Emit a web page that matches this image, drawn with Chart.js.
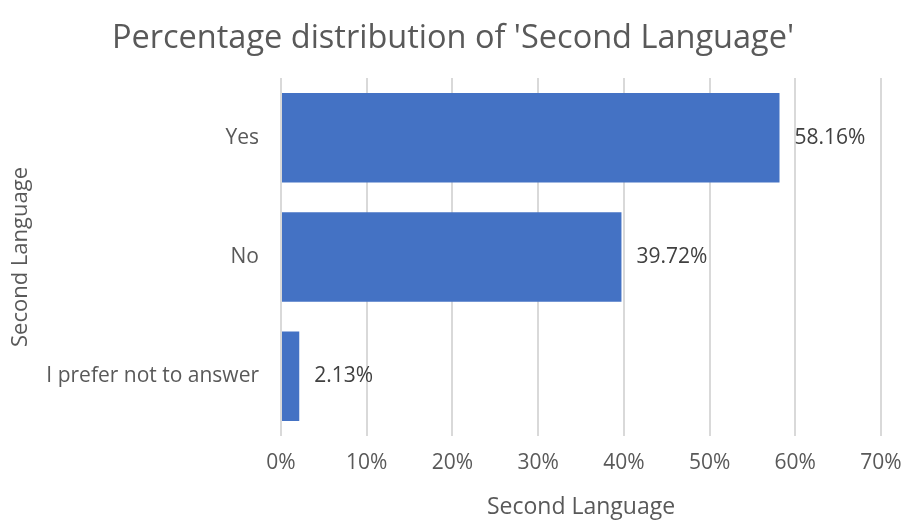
<!DOCTYPE html>
<html>
<head>
<meta charset="utf-8">
<script src="https://cdn.jsdelivr.net/npm/chart.js@4"></script>
<style>
  html, body { margin: 0; padding: 0; background: #fff; }
  #wrap { width: 906px; height: 525px; }
</style>
</head>
<body>
<div id="wrap"><canvas id="chart" width="906" height="525"></canvas></div>
<script>
// Chart data
const categories = ['Yes', 'No', 'I prefer not to answer'];
const percentages = [58.16, 39.72, 2.13];
const tickValues = [0, 10, 20, 30, 40, 50, 60, 70];

const FONT = "'Open Sans', 'Liberation Sans', sans-serif";

// Draw value labels just right of each bar
const barLabels = {
    id: 'barLabels',
    afterDatasetsDraw(chart) {
        const ctx = chart.ctx;
        const meta = chart.getDatasetMeta(0);
        ctx.save();
        ctx.font = '21px ' + FONT;
        ctx.fillStyle = '#404040';
        ctx.textAlign = 'left';
        ctx.textBaseline = 'middle';
        meta.data.forEach((bar, i) => {
            ctx.fillText(percentages[i].toFixed(2) + '%', bar.x + 15, bar.y);
        });
        ctx.restore();
    }
};

new Chart(document.getElementById('chart'), {
    type: 'bar',
    data: {
        labels: categories,
        datasets: [{
            data: percentages,
            backgroundColor: '#4472C4',
            borderWidth: 0,
            barPercentage: 0.75,
            categoryPercentage: 1.0
        }]
    },
    options: {
        indexAxis: 'y',
        responsive: false,
        animation: false,
        layout: { padding: { left: 0, right: 0, top: 0, bottom: 4 } },
        plugins: {
            legend: { display: false },
            tooltip: { enabled: false },
            title: {
                display: true,
                text: "Percentage distribution of 'Second Language'",
                color: '#595959',
                font: { family: FONT, size: 32.5, weight: 'normal' },
                padding: { top: 19, bottom: 20 }
            }
        },
        scales: {
            x: {
                min: 0,
                max: 70,
                afterBuildTicks(axis) {
                    axis.ticks = tickValues.map(v => ({ value: v }));
                },
                afterFit(axis) {
                    axis.height = 85;
                    axis.paddingRight = 25;
                    axis.paddingLeft = 0;
                },
                ticks: {
                    color: '#595959',
                    font: { family: FONT, size: 21 },
                    padding: 14,
                    maxRotation: 0,
                    callback: v => v + '%'
                },
                grid: { color: '#d9d9d9', lineWidth: 2, drawTicks: false },
                border: { display: false },
                title: {
                    display: true,
                    text: 'Second Language',
                    color: '#595959',
                    font: { family: FONT, size: 23 },
                    padding: { top: 20, bottom: 0 }
                }
            },
            y: {
                ticks: {
                    color: '#595959',
                    font: { family: FONT, size: 21 },
                    padding: 14
                },
                grid: { display: false },
                border: { display: false },
                afterFit(axis) { axis.width = 281; },
                title: {
                    display: true,
                    text: 'Second Language',
                    color: '#595959',
                    font: { family: FONT, size: 22 },
                    padding: { top: 8, bottom: 0 }
                }
            }
        }
    },
    plugins: [barLabels]
});
</script>
</body>
</html>
